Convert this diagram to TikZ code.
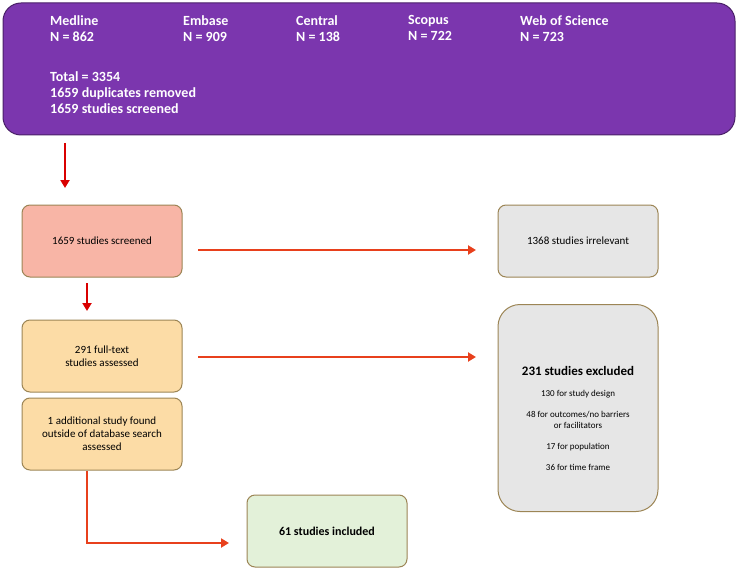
\documentclass[tikz,border=0pt]{standalone}
\usepackage{fontspec}
\setmainfont{Carlito}
\usetikzlibrary{arrows.meta}
\definecolor{purp}{HTML}{7B36AE}
\definecolor{salm}{HTML}{F8B5A6}
\definecolor{orng}{HTML}{FCDCA6}
\definecolor{gry}{HTML}{E6E6E6}
\definecolor{grn}{HTML}{E3F1D9}
\definecolor{bord}{HTML}{9C8555}
\definecolor{arr}{HTML}{E8401C}
\begin{document}
\begin{tikzpicture}[x=1pt,y=-1pt,
  hd/.style={anchor=north west,text=white,font=\fontsize{14}{16}\selectfont\bfseries,align=left,inner sep=0},
  bx/.style={draw=bord,line width=1pt,rounded corners=8pt,minimum width=160pt,minimum height=72pt,align=center,font=\fontsize{11}{13}\selectfont},
  ar/.style={draw=arr,line width=2.2pt,-{Triangle[length=8pt,width=9pt]}}]
\useasboundingbox (0,0) rectangle (738,572);
\node[draw=purp!60!black,fill=purp,line width=1pt,rounded corners=18pt,minimum width=732pt,minimum height=132pt] (top) at (369,69) {};
\node[hd] (m) at (50,15) {Medline\\N = 862};
\node[hd] (e) at (183,15) {Embase\\N = 909};
\node[hd] (c) at (296,15) {Central\\N = 138};
\node[hd] (s) at (408,15) {Scopus\\N = 722};
\node[hd] (w) at (520,15) {Web of Science\\N = 723};
\node[hd] (t) at (50,71) {Total = 3354\\1659 duplicates removed\\1659 studies screened};
\node[bx,fill=salm] (b1) at (102,241) {1659 studies screened};
\node[bx,fill=gry] (ir) at (578,241) {1368 studies irrelevant};
\node[bx,fill=orng] (b2) at (102,356) {291 full-text\\studies assessed};
\node[bx,fill=orng] (b3) at (102,434) {1 additional study found\\outside of database search\\assessed};
\node[bx,fill=gry,rounded corners=22pt,minimum height=207pt] (ex) at (578,408) {};
\node[align=center,font=\fontsize{9}{11}\selectfont] (exl) at (578,418) {%
{\fontsize{13}{15}\selectfont\bfseries 231 studies excluded}\\[10pt]
130 for study design\\[10pt]
48 for outcomes/no barriers\\or facilitators\\[10pt]
17 for population\\[10pt]
36 for time frame};
\node[bx,fill=grn] (inc) at (327,531) {\fontsize{12}{14}\selectfont\bfseries 61 studies included};
\coordinate (a0) at (65,143);
\coordinate (a1) at (65,188);
\draw[ar,draw=red!85!black] (a0) -- (a1);
\draw[ar] (198,250) -- (476,250);
\draw[ar,draw=red!85!black] (87,283) -- (87,311);
\draw[ar] (198,357) -- (476,357);
\coordinate (c1) at (87,543);
\draw[ar] (b3.south -| c1) -- (c1) -- (229,543);
\end{tikzpicture}
\end{document}
